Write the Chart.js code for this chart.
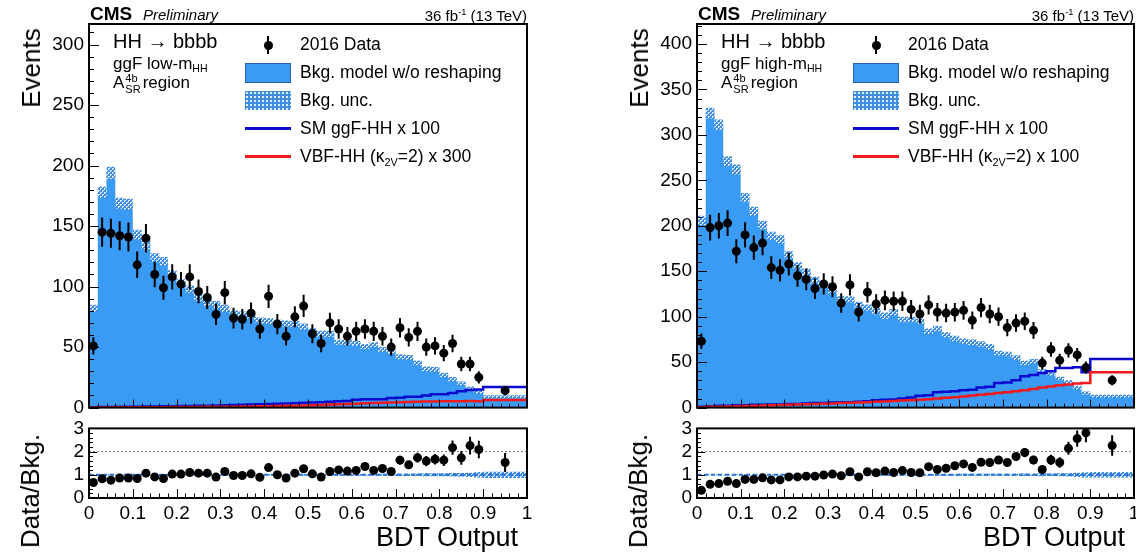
<!DOCTYPE html>
<html>
<head>
<meta charset="utf-8">
<script src="https://cdn.jsdelivr.net/npm/chart.js@4.4.0/dist/chart.umd.min.js"></script>
<style>
  body { margin: 0; width: 1136px; height: 556px; position: relative; overflow: hidden; background: #fff;
         font-family: "Liberation Sans", Arial, Helvetica, sans-serif; color: #000; }
  canvas { position: absolute; }
  .t { position: absolute; white-space: nowrap; line-height: 1; }
  .vc { transform: translateY(-50%); }
  .rot { transform: translate(-50%, -50%) rotate(-90deg); }
  sub { font-size: 0.62em; vertical-align: -0.35em; line-height: 0; }
  sup { font-size: 0.62em; vertical-align: 0.55em; line-height: 0; }
  .ss { display: inline-flex; flex-direction: column; font-size: 11px; line-height: 11px; vertical-align: middle; margin: 0 2px 0 1px; }
</style>
</head>
<body>
<script>
// bin edges of the BDT output histograms (last bin is wider)
const binEdges = [0, 0.02, 0.04, 0.06, 0.08, 0.1, 0.12, 0.14, 0.16, 0.18, 0.2, 0.22, 0.24, 0.26, 0.28, 0.3,
  0.32, 0.34, 0.36, 0.38, 0.4, 0.42, 0.44, 0.46, 0.48, 0.5, 0.52, 0.54, 0.56, 0.58, 0.6, 0.62, 0.64, 0.66,
  0.68, 0.7, 0.72, 0.74, 0.76, 0.78, 0.8, 0.82, 0.84, 0.86, 0.88, 0.9, 1.0];
const xTickLabels = ['0', '0.1', '0.2', '0.3', '0.4', '0.5', '0.6', '0.7', '0.8', '0.9', '1'];

// --- ggF low-mHH ---
const lowBkg = [82, 178, 194, 169, 168, 143, 135, 124, 121, 110, 103, 98, 91, 87, 85, 82, 78, 77, 75, 72,
  71.5, 70, 69.5, 69, 67, 63, 61, 61, 54, 54, 53, 50.5, 52, 48, 46.5, 42, 41.5, 37, 32, 31.5, 27, 23.5, 20, 16, 13, 9];
const lowUnc = [3, 4.5, 5, 4.5, 4.5, 4, 4, 3.5, 3.5, 3.5, 3, 3, 3, 3, 3, 3, 2.5, 2.5, 2.5, 2.5, 2.5, 2.5, 2.5,
  2.5, 2.5, 2.5, 2.5, 2.5, 2, 2, 2, 2, 2, 2, 2, 2, 2, 2, 2, 2, 1.8, 1.8, 1.6, 1.5, 1.5, 1.2];
const lowData = [51, 145, 144, 142, 141, 118, 140, 110, 99, 108, 102, 108, 96, 91, 77, 95, 74, 73, 78, 65,
  92, 69, 59, 75, 84, 61, 53, 70, 65, 59, 63, 65, 63, 59, 50, 66, 58, 63, 50, 51, 45, 53, 36, 36, 25, 14];
const lowDataErr = [7.1, 12, 12, 11.9, 11.9, 10.9, 11.8, 10.5, 9.9, 10.4, 10.1, 10.4, 9.8, 9.5, 8.8, 9.7, 8.6,
  8.5, 8.8, 8.1, 9.6, 8.3, 7.7, 8.7, 9.2, 7.8, 7.3, 8.4, 8.1, 7.7, 7.9, 8.1, 7.9, 7.7, 7.1, 8.1, 7.6, 7.9,
  7.1, 7.1, 6.7, 7.3, 6, 6, 5, 3.7];
const lowSM = [0.3, 0.4, 0.5, 0.6, 0.7, 0.8, 0.9, 1, 1.1, 1.2, 1.3, 1.4, 1.5, 1.6, 1.8, 2, 2.1, 2.3, 2.5, 2.7,
  2.9, 3.1, 3.3, 3.6, 4, 4.2, 4.5, 4.8, 5.2, 5.5, 6.5, 6.8, 7, 7, 8, 8.2, 9, 9, 10, 11, 11, 12, 13.5, 14.5, 15, 17];
const lowVBF = [0.1, 0.1, 0.15, 0.2, 0.2, 0.25, 0.3, 0.3, 0.35, 0.4, 0.45, 0.5, 0.55, 0.6, 0.7, 0.75, 0.8, 0.9,
  1, 1.1, 1.2, 1.3, 1.5, 1.6, 1.8, 2, 2.2, 2.5, 2.7, 3, 3.2, 3.5, 3.7, 4, 4.2, 4.4, 4.6, 4.8, 5, 5.1, 5.2, 5.3,
  5.3, 5.4, 5.2, 6.3];
const lowRatio = [0.67, 0.83, 0.77, 0.86, 0.86, 0.84, 1.07, 0.91, 0.84, 1.03, 1.03, 1.1, 1.07, 1.07, 0.9, 1.14,
  0.97, 0.97, 1.04, 0.89, 1.31, 1.0, 0.86, 1.07, 1.26, 1.04, 0.9, 1.14, 1.21, 1.16, 1.19, 1.36, 1.19, 1.27,
  1.14, 1.63, 1.43, 1.74, 1.59, 1.67, 1.63, 2.17, 1.73, 2.26, 2.09, 1.53];
const lowRatioErr = [0.09, 0.07, 0.06, 0.07, 0.07, 0.08, 0.09, 0.08, 0.08, 0.09, 0.1, 0.11, 0.11, 0.11, 0.1,
  0.12, 0.11, 0.11, 0.12, 0.11, 0.13, 0.12, 0.11, 0.13, 0.14, 0.12, 0.12, 0.14, 0.15, 0.14, 0.15, 0.16, 0.15,
  0.16, 0.15, 0.19, 0.18, 0.21, 0.22, 0.23, 0.25, 0.31, 0.3, 0.38, 0.38, 0.41];

// --- ggF high-mHH ---
const highBkg = [206, 324, 311, 271, 262, 231, 216, 201, 189, 185, 168, 156, 149, 140, 135, 129, 119, 119, 113,
  110, 106, 101, 105, 97, 97, 95, 84, 87, 80, 76, 73, 72, 70, 67, 60, 59, 55, 49, 51, 40, 37, 32, 28, 22, 16, 12.5];
const highUnc = [5, 6, 6, 5.5, 5.5, 5, 5, 4.5, 4.5, 4.5, 4, 4, 4, 4, 3.5, 3.5, 3.5, 3.5, 3.5, 3.5, 3.5, 3.5,
  3.5, 3, 3, 3, 3, 3, 3, 3, 3, 3, 3, 3, 2.5, 2.5, 2.5, 2.5, 2.5, 2.5, 2, 2, 2, 2, 1.8, 1.5];
const highData = [73, 198, 200, 203, 172, 190, 176, 181, 154, 151, 158, 145, 141, 131, 136, 133, 115, 135, 105,
  127, 114, 118, 117, 117, 108, 103, 113, 105, 104, 105, 107, 96, 110, 103, 100, 88, 93, 95, 85, 49, 64, 52,
  63, 58, 44, 30];
const highDataErr = [8.5, 14.1, 14.1, 14.2, 13.1, 13.8, 13.3, 13.5, 12.4, 12.3, 12.6, 12, 11.9, 11.4, 11.7,
  11.5, 10.7, 11.6, 10.2, 11.3, 10.7, 10.9, 10.8, 10.8, 10.4, 10.1, 10.6, 10.2, 10.2, 10.2, 10.3, 9.8, 10.5,
  10.1, 10, 9.4, 9.6, 9.7, 9.2, 7, 8, 7.2, 7.9, 7.6, 6.6, 5.5];
const highSM = [1, 1.5, 2, 2, 2.5, 2.5, 3, 3, 3.5, 3.5, 4, 4, 4.5, 5, 5, 5.5, 6, 6, 6.5, 7, 8, 8.5, 9, 10, 11,
  13, 13.5, 17, 17.5, 18, 19, 19.5, 22, 23, 27, 27.5, 30, 34.5, 36, 38, 40, 43.5, 43.5, 44.5, 39, 53.5];
const highVBF = [0.5, 0.8, 1, 1.2, 1.5, 1.7, 2, 2.2, 2.5, 2.8, 3, 3.3, 3.6, 4, 4.3, 4.6, 5, 5.3, 5.7, 6, 6.4,
  6.8, 7.2, 7.7, 8.2, 8.7, 9.3, 10, 10.7, 11.5, 12.3, 13.2, 14, 15, 16, 17, 18, 19.2, 20.5, 22, 23.2, 24.5,
  25.5, 26.5, 27, 39];
const highRatio = [0.33, 0.59, 0.62, 0.72, 0.62, 0.8, 0.8, 0.87, 0.78, 0.78, 0.91, 0.91, 0.94, 0.94, 0.99, 1.03,
  0.96, 1.13, 0.91, 1.13, 1.09, 1.16, 1.1, 1.18, 1.1, 1.09, 1.35, 1.23, 1.28, 1.39, 1.47, 1.32, 1.54, 1.53,
  1.64, 1.53, 1.79, 1.96, 1.64, 1.23, 1.64, 1.53, 2.14, 2.56, 2.81, 2.26];
const highRatioErr = [0.04, 0.04, 0.05, 0.05, 0.05, 0.06, 0.06, 0.07, 0.07, 0.07, 0.08, 0.08, 0.08, 0.08, 0.09,
  0.09, 0.09, 0.1, 0.09, 0.1, 0.1, 0.11, 0.1, 0.11, 0.11, 0.11, 0.13, 0.12, 0.13, 0.13, 0.14, 0.14, 0.15, 0.15,
  0.17, 0.16, 0.17, 0.2, 0.18, 0.18, 0.22, 0.23, 0.28, 0.35, 0.41, 0.44];

const ratioRefLines = [1, 2];

const FONT = '"Liberation Sans", Arial, Helvetica, sans-serif';
const bkgBlue = '#3a9bf4';
const smBlue = '#0b0bd0';
const vbfRed = '#f21a1a';
Chart.defaults.font.family = FONT;
Chart.defaults.color = '#000';

function hatch() {
  const c = document.createElement('canvas');
  c.width = 4; c.height = 4;
  const g = c.getContext('2d');
  g.fillStyle = '#3f8de4';
  g.fillRect(0, 0, 4, 4);
  g.fillStyle = '#e2eefc';
  g.fillRect(0, 0, 2, 1);
  g.fillRect(0, 0, 1, 2);
  g.fillRect(2, 2, 2, 1);
  g.fillRect(2, 2, 1, 2);
  return g.createPattern(c, 'repeat');
}

const centers = binEdges.slice(0, -1).map((e, i) => (e + binEdges[i + 1]) / 2);
const steps = vals => vals.map((v, i) => ({ x: binEdges[i], y: v })).concat([{ x: binEdges[vals.length], y: vals[vals.length - 1] }]);

// error bars for the black points
const errBars = {
  id: 'errBars',
  afterDatasetsDraw(chart) {
    const { ctx, chartArea: a } = chart;
    const y = chart.scales.y;
    chart.data.datasets.forEach((ds, i) => {
      if (!ds.errors) return;
      const meta = chart.getDatasetMeta(i);
      ctx.save();
      ctx.beginPath();
      ctx.rect(a.left, a.top, a.right - a.left, a.bottom - a.top);
      ctx.clip();
      ctx.strokeStyle = '#000';
      ctx.lineWidth = 2;
      meta.data.forEach((pt, j) => {
        const v = ds.data[j].y, e = ds.errors[j];
        ctx.beginPath();
        ctx.moveTo(pt.x, y.getPixelForValue(v - e));
        ctx.lineTo(pt.x, y.getPixelForValue(v + e));
        ctx.stroke();
      });
      ctx.restore();
    });
  }
};

// ROOT style frame with inward ticks
const rootFrame = {
  id: 'rootFrame',
  afterDraw(chart, args, o) {
    const { ctx, chartArea: a, scales: { x, y } } = chart;
    ctx.save();
    ctx.strokeStyle = '#000';
    ctx.lineWidth = 1;
    ctx.beginPath();
    for (let v = x.min; v <= x.max + 1e-9; v += o.xMinor) {
      const px = Math.round(x.getPixelForValue(v)) + 0.5;
      const major = Math.abs(v / o.xMajor - Math.round(v / o.xMajor)) < 1e-6;
      ctx.moveTo(px, a.bottom);
      ctx.lineTo(px, a.bottom - (major ? o.xMajLen : o.xMinLen));
    }
    for (let v = y.min; v <= y.max + 1e-9; v += o.yMinor) {
      const py = Math.round(y.getPixelForValue(v)) + 0.5;
      const major = Math.abs(v / o.yMajor - Math.round(v / o.yMajor)) < 1e-6;
      ctx.moveTo(a.left, py);
      ctx.lineTo(a.left + (major ? o.yMajLen : o.yMinLen), py);
    }
    ctx.stroke();
    ctx.lineWidth = 2;
    ctx.strokeRect(a.left, a.top, a.right - a.left, a.bottom - a.top);
    ctx.restore();
  }
};

function addDiv(html, css, cls) {
  const d = document.createElement('div');
  d.className = 't' + (cls ? ' ' + cls : '');
  d.innerHTML = html;
  Object.assign(d.style, css);
  document.body.appendChild(d);
  return d;
}

function panel(p) {
  const L = p.L, R = p.R, W = R - L;
  const up = p.bkg.map((b, i) => b + p.unc[i]);
  const dn = p.bkg.map((b, i) => b - p.unc[i]);

  // main plot
  const c1 = document.createElement('canvas');
  c1.width = W + 62; c1.height = 424;
  c1.style.left = (L - 49) + 'px'; c1.style.top = '0px';
  document.body.appendChild(c1);
  new Chart(c1, {
    type: 'line',
    data: {
      datasets: [
        { data: centers.map((x, i) => ({ x, y: p.data[i] })), errors: p.dataErr, showLine: false,
          pointRadius: 4.5, pointBackgroundColor: '#000', pointBorderColor: '#000', pointBorderWidth: 0, order: 0 },
        { data: steps(p.vbf), stepped: true, borderColor: vbfRed, borderWidth: 2.5, pointRadius: 0, fill: false, order: 1 },
        { data: steps(p.sm), stepped: true, borderColor: smBlue, borderWidth: 2.5, pointRadius: 0, fill: false, order: 2 },
        { data: steps(up), stepped: true, borderWidth: 0, borderColor: 'transparent', pointRadius: 0, fill: '+1', backgroundColor: hatch(), order: 3 },
        { data: steps(dn), stepped: true, borderWidth: 0, borderColor: 'transparent', pointRadius: 0, fill: false, order: 4 },
        { data: steps(p.bkg), stepped: true, borderWidth: 0, borderColor: 'transparent', pointRadius: 0, fill: 'origin', backgroundColor: bkgBlue, order: 5 }
      ]
    },
    options: {
      responsive: false, animation: false, devicePixelRatio: 1,
      layout: { padding: { top: 24, right: 13, bottom: 12, left: 0 } },
      plugins: { legend: { display: false }, tooltip: { enabled: false },
        rootFrame: { xMinor: 0.02, xMajor: 0.1, xMajLen: 8, xMinLen: 4, yMinor: 10, yMajor: 50, yMajLen: 10, yMinLen: 5 } },
      scales: {
        x: { type: 'linear', min: 0, max: 1, display: false },
        y: { type: 'linear', min: 0, max: p.ymax, grid: { display: false, drawTicks: false }, border: { display: false },
          afterFit: s => { s.width = 49; },
          ticks: { stepSize: 50, includeBounds: false, autoSkip: false, padding: 5, font: { size: 19 }, color: '#000' } }
      }
    },
    plugins: [errBars, rootFrame]
  });

  // ratio plot
  const c2 = document.createElement('canvas');
  c2.width = W + 62; c2.height = 118;
  c2.style.left = (L - 49) + 'px'; c2.style.top = '412px';
  document.body.appendChild(c2);
  const rUp = p.bkg.map((b, i) => 1 + p.unc[i] / b);
  const rDn = p.bkg.map((b, i) => 1 - p.unc[i] / b);
  new Chart(c2, {
    type: 'line',
    data: {
      datasets: [
        { data: centers.map((x, i) => ({ x, y: p.ratio[i] })), errors: p.ratioErr, showLine: false,
          pointRadius: 4.5, pointBackgroundColor: '#000', pointBorderColor: '#000', pointBorderWidth: 0, order: 0 },
        { data: [{ x: 0, y: ratioRefLines[0] }, { x: 1, y: ratioRefLines[0] }], borderColor: '#2b72d8', borderWidth: 2,
          borderDash: [4, 3], pointRadius: 0, fill: false, order: 1 },
        { data: steps(rUp), stepped: true, borderWidth: 0, borderColor: 'transparent', pointRadius: 0, fill: '+1', backgroundColor: hatch(), order: 2 },
        { data: steps(rDn), stepped: true, borderWidth: 0, borderColor: 'transparent', pointRadius: 0, fill: false, order: 3 },
        { data: [{ x: 0, y: ratioRefLines[1] }, { x: 1, y: ratioRefLines[1] }], borderColor: '#777', borderWidth: 1,
          borderDash: [2, 2], pointRadius: 0, fill: false, order: 4 }
      ]
    },
    options: {
      responsive: false, animation: false, devicePixelRatio: 1,
      layout: { padding: { top: 16, right: 13, bottom: 0, left: 0 } },
      plugins: { legend: { display: false }, tooltip: { enabled: false },
        rootFrame: { xMinor: 0.02, xMajor: 0.1, xMajLen: 9, xMinLen: 4.5, yMinor: 0.2, yMajor: 1, yMajLen: 8, yMinLen: 4 } },
      scales: {
        x: { type: 'linear', min: 0, max: 1, grid: { display: false, drawTicks: false }, border: { display: false },
          afterFit: s => { s.height = 32; },
          ticks: { stepSize: 0.1, autoSkip: false, maxRotation: 0, padding: 4, font: { size: 19 }, color: '#000',
            callback: v => xTickLabels[Math.round(v * 10)] } },
        y: { type: 'linear', min: 0, max: 3, grid: { display: false, drawTicks: false }, border: { display: false },
          afterFit: s => { s.width = 49; },
          ticks: { stepSize: 1, autoSkip: false, padding: 5, font: { size: 19 }, color: '#000' } }
      }
    },
    plugins: [errBars, rootFrame]
  });

  // texts and legend
  addDiv('<b>CMS</b>', { left: (L + 1) + 'px', top: '13px', fontSize: '19px' }, 'vc');
  addDiv('<i>Preliminary</i>', { left: (L + 54) + 'px', top: '14px', fontSize: '15px' }, 'vc');
  addDiv('36 fb<sup>-1</sup> (13 TeV)', { right: (1136 - R) + 'px', top: '15px', fontSize: '15px' }, 'vc');
  addDiv('Events', { left: (L - 58) + 'px', top: '68px', fontSize: '26px' }, 'rot');
  addDiv('Data/Bkg.', { left: (L - 59) + 'px', top: '491px', fontSize: '26px' }, 'rot');
  addDiv('BDT Output', { right: (1136 - R + 9) + 'px', top: '537px', fontSize: '27px' }, 'vc');

  addDiv('HH \u2192 bbbb', { left: (L + 24) + 'px', top: '41px', fontSize: '20px' }, 'vc');
  addDiv(p.region, { left: (L + 24) + 'px', top: '63px', fontSize: '17px' }, 'vc');
  addDiv('A<span class="ss"><span>4b</span><span>SR</span></span>region', { left: (L + 24) + 'px', top: '84px', fontSize: '17px' }, 'vc');

  const sx = L + 156;
  addDiv('', { left: (sx + 22) + 'px', top: '36px', width: '2px', height: '18px', background: '#000' });
  addDiv('', { left: (sx + 18.5) + 'px', top: '40.5px', width: '9px', height: '9px', borderRadius: '50%', background: '#000' });
  addDiv('', { left: sx + 'px', top: '63px', width: '46px', height: '20px', background: bkgBlue, border: '1px solid #2a60b8', boxSizing: 'border-box' });
  addDiv('', { left: sx + 'px', top: '91px', width: '46px', height: '19px',
    background: 'radial-gradient(circle, #e2eefc 0 1px, transparent 1.4px) 0 0 / 4px 4px, #3f8de4' });
  addDiv('', { left: sx + 'px', top: '127px', width: '46px', height: '2.5px', background: smBlue });
  addDiv('', { left: sx + 'px', top: '155px', width: '46px', height: '2.5px', background: vbfRed });
  const tx = (L + 211) + 'px';
  addDiv('2016 Data', { left: tx, top: '45px', fontSize: '17.5px' }, 'vc');
  addDiv('Bkg. model w/o reshaping', { left: tx, top: '73px', fontSize: '17.5px' }, 'vc');
  addDiv('Bkg. unc.', { left: tx, top: '101px', fontSize: '17.5px' }, 'vc');
  addDiv('SM ggF-HH x 100', { left: tx, top: '129px', fontSize: '17.5px' }, 'vc');
  addDiv('VBF-HH (\u03ba<sub>2V</sub>=2) x ' + p.vbfScale, { left: tx, top: '157px', fontSize: '17.5px' }, 'vc');
}

panel({ L: 89, R: 527, ymax: 317, region: 'ggF low-m<sub>HH</sub>', vbfScale: 300,
  bkg: lowBkg, unc: lowUnc, data: lowData, dataErr: lowDataErr, sm: lowSM, vbf: lowVBF,
  ratio: lowRatio, ratioErr: lowRatioErr });
panel({ L: 697, R: 1134, ymax: 422, region: 'ggF high-m<sub>HH</sub>', vbfScale: 100,
  bkg: highBkg, unc: highUnc, data: highData, dataErr: highDataErr, sm: highSM, vbf: highVBF,
  ratio: highRatio, ratioErr: highRatioErr });
</script>
</body>
</html>
